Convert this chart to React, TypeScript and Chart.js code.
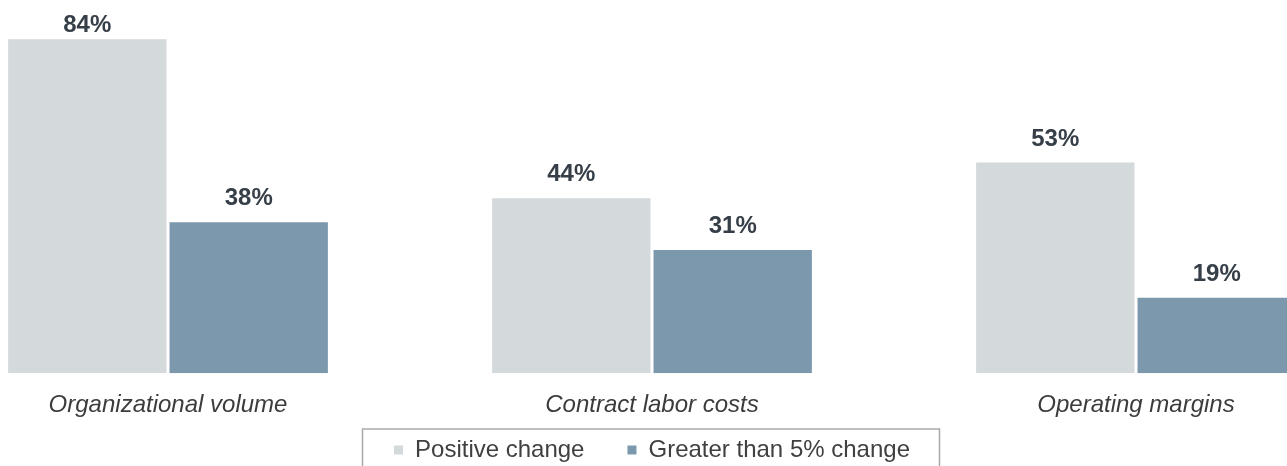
import React, { useEffect, useRef } from "react";
import { Chart, registerables } from "chart.js";

Chart.register(...registerables);

const categories = ["Organizational volume", "Contract labor costs", "Operating margins"];
const seriesNames = ["Positive change", "Greater than 5% change"];
const positiveChange = [84, 44, 53];
const greaterThan5 = [38, 31, 19];
const seriesColors = ["#d4d9db", "#7b98ad"];

const FONT = "'Liberation Sans', Arial, sans-serif";

const valueLabels = {
  id: "valueLabels",
  afterDatasetsDraw(chart: any) {
    const ctx = chart.ctx;
    ctx.save();
    ctx.font = `bold 24px ${FONT}`;
    ctx.fillStyle = "#363f48";
    ctx.textAlign = "center";
    ctx.textBaseline = "alphabetic";
    chart.data.datasets.forEach((ds: any, i: number) => {
      const meta = chart.getDatasetMeta(i);
      meta.data.forEach((bar: any, j: number) => {
        ctx.fillText(`${ds.data[j]}%`, bar.x, Math.max(bar.y - 17, 32));
      });
    });
    ctx.restore();
  },
};

// move the legend up into the space below the category labels
const legendLift = {
  id: "legendLift",
  afterLayout(chart: any) {
    const lg = chart.legend;
    if (!lg) return;
    lg.top -= 43;
    lg.bottom -= 43;
  },
};

const legendFrame = {
  id: "legendFrame",
  afterDraw(chart: any) {
    const lg = chart.legend;
    if (!lg || !lg.legendHitBoxes || !lg.legendHitBoxes.length) return;
    const hb = lg.legendHitBoxes;
    const l = Math.min(...hb.map((h: any) => h.left));
    const r = Math.max(...hb.map((h: any) => h.left + h.width));
    const c = (l + r) / 2;
    const left = c - 289.5;
    const right = c + 287.5;
    const cy = hb[0].top + hb[0].height / 2;
    const ctx = chart.ctx;
    ctx.save();
    ctx.strokeStyle = "#a9a9a9";
    ctx.lineWidth = 1.5;
    ctx.strokeRect(left, cy - 21, right - left, 100);
    ctx.restore();
  },
};

export default function App() {
  const ref = useRef<HTMLCanvasElement>(null);
  useEffect(() => {
    if (!ref.current) return;
    const chart = new Chart(ref.current, {
      type: "bar",
      data: {
        labels: categories,
        datasets: [
          {
            label: seriesNames[0],
            data: positiveChange,
            backgroundColor: seriesColors[0],
            borderWidth: 0,
            categoryPercentage: 0.667,
            barPercentage: 0.981,
          },
          {
            label: seriesNames[1],
            data: greaterThan5,
            backgroundColor: seriesColors[1],
            borderWidth: 0,
            categoryPercentage: 0.667,
            barPercentage: 0.981,
          },
        ],
      },
      options: {
        responsive: false,
        animation: false,
        layout: { padding: { top: 17, right: 15, left: 0, bottom: 0 } },
        scales: {
          x: {
            grid: { display: false, drawTicks: false },
            border: { display: false },
            ticks: {
              padding: 18,
              color: "#3c3c3c",
              font: { family: FONT, size: 24, style: "italic" },
            },
          },
          y: { display: false, min: 0, max: 89.6 },
        },
        plugins: {
          tooltip: { enabled: false },
          legend: {
            position: "bottom",
            labels: {
              boxWidth: 9,
              boxHeight: 9,
              padding: 43,
              color: "#404040",
              font: { family: FONT, size: 24 },
            },
          },
        },
      },
      plugins: [valueLabels, legendLift, legendFrame],
    });
    return () => chart.destroy();
  }, []);
  return (
    <div
      style={{
        position: "fixed",
        left: 0,
        top: 0,
        width: 1287,
        height: 466,
        overflow: "hidden",
        background: "#fff",
      }}
    >
      <div style={{ position: "absolute", left: -74, top: 0, width: 1467, height: 515 }}>
        <canvas ref={ref} width={1467} height={515} style={{ width: 1467, height: 515 }} />
      </div>
    </div>
  );
}
